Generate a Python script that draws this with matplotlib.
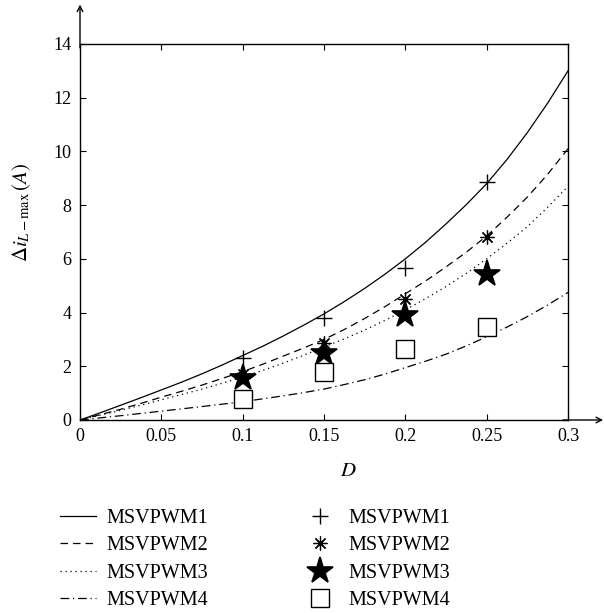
import matplotlib
matplotlib.use("Agg")
import matplotlib.pyplot as plt

plt.rcParams['font.family'] = ['Liberation Serif', 'DejaVu Serif']
plt.rcParams['mathtext.fontset'] = 'stix'

# curve samples
D_curve = [0, 0.0125, 0.025, 0.0375, 0.05, 0.0625, 0.075, 0.0875, 0.1, 0.1125,
           0.125, 0.1375, 0.15, 0.1625, 0.175, 0.1875, 0.2, 0.2125, 0.225, 0.2375,
           0.25, 0.2625, 0.275, 0.2875, 0.3]
curve1 = [0, 0.27, 0.55, 0.83, 1.12, 1.41, 1.72, 2.05, 2.4, 2.75, 3.13, 3.53, 3.95,
          4.41, 4.9, 5.43, 6.0, 6.62, 7.3, 8.02, 8.8, 9.7, 10.7, 11.8, 13.0]
curve2 = [0, 0.2, 0.4, 0.62, 0.85, 1.07, 1.3, 1.55, 1.8, 2.08, 2.38, 2.68, 3.0,
          3.37, 3.78, 4.22, 4.7, 5.18, 5.7, 6.25, 6.85, 7.55, 8.3, 9.15, 10.1]
curve3 = [0, 0.18, 0.36, 0.55, 0.75, 0.95, 1.15, 1.37, 1.6, 1.85, 2.12, 2.41, 2.72,
          3.02, 3.35, 3.71, 4.1, 4.52, 4.97, 5.46, 6.0, 6.58, 7.2, 7.92, 8.7]
curve4 = [0, 0.08, 0.16, 0.245, 0.33, 0.415, 0.5, 0.59, 0.68, 0.79, 0.9, 1.02, 1.15,
          1.32, 1.5, 1.71, 1.95, 2.19, 2.45, 2.76, 3.1, 3.46, 3.85, 4.28, 4.75]

# measured points
D_pts = [0.1, 0.15, 0.2, 0.25]
pts1 = [2.3, 3.8, 5.65, 8.85]
pts2 = [1.7, 2.85, 4.5, 6.8]
pts3 = [1.55, 2.5, 3.9, 5.45]
pts4 = [0.8, 1.8, 2.65, 3.45]

labels = ['MSVPWM1', 'MSVPWM2', 'MSVPWM3', 'MSVPWM4']
xticks = [0, 0.05, 0.1, 0.15, 0.2, 0.25, 0.3]
xticklabels = ['0', '0.05', '0.1', '0.15', '0.2', '0.25', '0.3']
yticks = [0, 2, 4, 6, 8, 10, 12, 14]

fig = plt.figure(figsize=(6.04, 6.13), dpi=100)
ax = fig.add_axes([80/604, 1-420/613, 488/604, 376/613])

lw = 0.9
l1, = ax.plot(D_curve, curve1, color='black', lw=lw, ls='-')
l2, = ax.plot(D_curve, curve2, color='black', lw=lw, ls=(0, (6, 4)))
l3, = ax.plot(D_curve, curve3, color='black', lw=lw, ls=(0, (1, 3)))
l4, = ax.plot(D_curve, curve4, color='black', lw=lw, ls=(0, (7, 3, 1, 3)))

m1, = ax.plot(D_pts, pts1, ls='none', marker='+', ms=11, mew=1.0, color='black')
m2, = ax.plot(D_pts, pts2, ls='none', marker=(8, 2, 0), ms=10, mew=0.9, color='black')
m3, = ax.plot(D_pts, pts3, ls='none', marker='*', ms=20, mew=1.2, color='black', mfc='black')
m4, = ax.plot(D_pts, pts4, ls='none', marker='s', ms=13, mew=1.0, color='black', mfc='white')

ax.set_xlim(0, 0.3)
ax.set_ylim(0, 14)
ax.set_xticks(xticks)
ax.set_xticklabels(xticklabels)
ax.set_yticks(yticks)
ax.tick_params(direction='in', top=True, right=True, length=4, width=0.8,
               labelsize=13, pad=6)
for s in ax.spines.values():
    s.set_linewidth(1.0)

# extended axes with arrows
ax.annotate('', xy=(0, 1.105), xytext=(0, 0.99), xycoords='axes fraction',
            arrowprops=dict(arrowstyle='->', lw=1.0, color='black', shrinkA=0, shrinkB=0))
ax.annotate('', xy=(1.072, 0), xytext=(0.99, 0), xycoords='axes fraction',
            arrowprops=dict(arrowstyle='->', lw=1.0, color='black', shrinkA=0, shrinkB=0))

ax.set_xlabel('$D$', fontsize=15)
ax.xaxis.set_label_coords(0.549, -0.112)
ax.set_ylabel(r'$\Delta i_{L-\mathrm{max}}\,(A)$', fontsize=15)
ax.yaxis.set_label_coords(-0.096, 0.553)

handles = [l1, l2, l3, l4, m1, m2, m3, m4]
fig.legend(handles, labels + labels, ncol=2, loc='upper left',
           bbox_to_anchor=(60/604, 1-509/613), frameon=False, fontsize=14.5,
           borderpad=0, borderaxespad=0,
           handlelength=1.8, columnspacing=4.67, labelspacing=0.41, handletextpad=0.5)

fig.savefig('out.png', dpi=100)
